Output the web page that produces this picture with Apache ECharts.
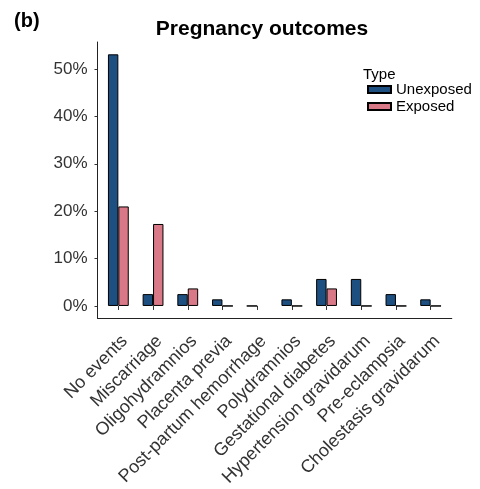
<!DOCTYPE html>
<html>
<head>
<meta charset="utf-8">
<script src="https://cdn.jsdelivr.net/npm/echarts@6/dist/echarts.min.js"></script>
<style>html,body{margin:0;padding:0;background:#fff}#c{width:480px;height:489px}</style>
</head>
<body>
<div id="c"></div>
<script>
var categories = ["No events", "Miscarriage", "Oligohydramnios", "Placenta previa", "Post-partum hemorrhage", "Polydramnios", "Gestational diabetes", "Hypertension gravidarum", "Pre-eclampsia", "Cholestasis gravidarum"];
var unexposed = [53.1, 2.5, 2.5, 1.4, 0, 1.4, 5.7, 5.7, 2.5, 1.4];
var exposed = [21.0, 17.3, 3.7, 0, null, 0, 3.7, 0, 0, 0];
var yTicks = [0, 10, 20, 30, 40, 50];
var yMax = 55.7;

var FONT = "'Liberation Sans', Arial, Helvetica, sans-serif";
var chart = echarts.init(document.getElementById('c'), null, {renderer: 'canvas'});
chart.setOption({
  animation: false,
  backgroundColor: '#fff',
  title: [
    {text: '(b)', left: 14, top: 11, padding: 0, textStyle: {fontFamily: FONT, fontSize: 20, fontWeight: 'bold', color: '#000'}},
    {text: 'Pregnancy outcomes', left: 262, top: 19, padding: 0, textAlign: 'center', textStyle: {fontFamily: FONT, fontSize: 21, fontWeight: 'bold', color: '#000'}},
    {text: 'Type', left: 363, top: 67, padding: 0, textStyle: {fontFamily: FONT, fontSize: 15, fontWeight: 'normal', color: '#000'}}
  ],
  legend: {
    orient: 'vertical', left: 367, top: 82, padding: 0, itemWidth: 23, itemHeight: 7, itemGap: 2, icon: 'rect',
    textStyle: {fontFamily: FONT, fontSize: 15, color: '#000'},
    data: ['Unexposed', 'Exposed']
  },
  grid: [
    {left: 101, right: 32, top: 42, bottom: 183},
    {left: 97.5, right: 28.2, top: 42, bottom: 171}
  ],
  xAxis: [
    {type: 'category', gridIndex: 0, data: categories, offset: 12,
     axisLine: {show: false},
     axisTick: {show: true, alignWithLabel: true, length: 4, lineStyle: {color: '#333'}},
     axisLabel: {rotate: 45, margin: 14, verticalAlign: 'top', interval: 0, fontFamily: FONT, fontSize: 18, color: '#333'}},
    {type: 'value', gridIndex: 1, min: 0, max: 1, axisLine: {show: true, onZero: false, lineStyle: {color: '#222', width: 1}},
     axisTick: {show: false}, axisLabel: {show: false}, splitLine: {show: false}}
  ],
  yAxis: [
    {type: 'value', gridIndex: 0, min: 0, max: yMax, offset: 3.5,
     axisLine: {show: false},
     axisTick: {show: true, length: 3, customValues: yTicks, lineStyle: {color: '#333'}},
     axisLabel: {customValues: yTicks, margin: 10, formatter: function (v) { return v + '%'; }, fontFamily: FONT, fontSize: 17, color: '#333'},
     splitLine: {show: false}},
    {type: 'value', gridIndex: 1, min: 0, max: 1, axisLine: {show: true, onZero: false, lineStyle: {color: '#222', width: 1}},
     axisTick: {show: false}, axisLabel: {show: false}, splitLine: {show: false}}
  ],
  series: [
    {name: 'Unexposed', type: 'bar', xAxisIndex: 0, yAxisIndex: 0, data: unexposed, barWidth: '30%', barGap: '0%',
     itemStyle: {color: '#1d4f80', borderColor: '#000', borderWidth: 1}},
    {name: 'Exposed', type: 'bar', xAxisIndex: 0, yAxisIndex: 0, data: exposed, barWidth: '30%', barGap: '0%',
     itemStyle: {color: '#d97886', borderColor: '#000', borderWidth: 1}}
  ]
});
</script>
</body>
</html>
